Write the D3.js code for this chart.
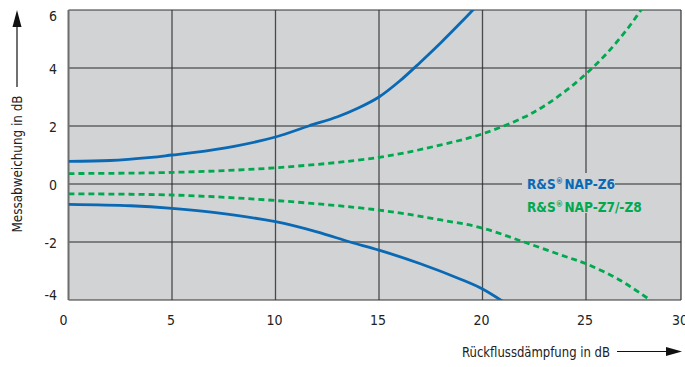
<!DOCTYPE html>
<html>
<head>
<meta charset="utf-8">
<script src="https://cdn.jsdelivr.net/npm/d3@7"></script>
<style>
  body { margin: 0; background: #fff; }
  svg { display: block; font-family: "DejaVu Sans", sans-serif; font-stretch: condensed; }
</style>
</head>
<body>
<div id="chart"></div>
<script>
(function() {
// tick values
const xTicks = [0, 5, 10, 15, 20, 25, 30]
const yTicks = [-4, -2, 0, 2, 4, 6]

// curves: [Rückflussdämpfung dB, Messabweichung dB]
const z6Upper = [[0,0.78],[2,0.81],[4,0.92],[5,1.0],[6,1.08],[8,1.3],[10,1.62],[11.6,2.0],[13,2.32],[14,2.62],[15,3.0],[16,3.55],[17,4.2],[18,4.88],[19,5.6],[20,6.35]]
const z6Lower = [[0,-0.70],[3,-0.75],[5,-0.84],[7,-0.98],[10,-1.3],[12,-1.65],[13.6,-2.0],[15,-2.28],[17,-2.75],[19,-3.3],[20,-3.62],[21.2,-4.15]]
const z7Upper = [[0,0.36],[5,0.40],[10,0.56],[15,0.92],[18,1.35],[20,1.73],[22,2.3],[23,2.7],[24,3.2],[25,3.8],[26,4.5],[27,5.35],[28,6.35]]
const z7Lower = [[0,-0.34],[5,-0.38],[10,-0.57],[15,-0.9],[18,-1.24],[20,-1.52],[22,-2.0],[24,-2.5],[25,-2.75],[26.6,-3.3],[28.4,-4.15]]

const legendNames = [["R&S", "NAP-Z6"], ["R&S", "NAP-Z7/-Z8"]]
const blue = "#0a69b4", green = "#00a84f"

let w = 685, h = 367
let pLeft = 68.5, pRight = 689.5, pTop = 10, pBottom = 300
let frameRight = 681

let x = d3.scaleLinear().domain([0, 30]).range([pLeft, pRight])
let y = d3.scaleLinear().domain([-4, 6]).range([pBottom, pTop])

let svg = d3.select("#chart").append("svg")
            .attr("width", w)
            .attr("height", h)

svg.append("defs").append("clipPath").attr("id", "plotclip")
   .append("rect")
   .attr("x", pLeft).attr("y", pTop)
   .attr("width", frameRight - pLeft).attr("height", pBottom - pTop)

// plot background
svg.append("rect")
   .attr("x", pLeft).attr("y", pTop)
   .attr("width", frameRight - pLeft).attr("height", pBottom - pTop)
   .attr("fill", "#d1d3d4")

// grid
let grid = svg.append("g").attr("clip-path", "url(#plotclip)")
grid.selectAll("line.v")
    .data(xTicks.filter(d => d > 0 && d < 30))
    .enter().append("line")
    .attr("class", "v")
    .attr("x1", d => x(d)).attr("x2", d => x(d))
    .attr("y1", pTop).attr("y2", pBottom)
    .attr("stroke", "#4a4a4a").attr("stroke-width", 1.3)
grid.selectAll("line.hz")
    .data(yTicks.filter(d => d > -4 && d < 6))
    .enter().append("line")
    .attr("class", "hz")
    .attr("x1", pLeft).attr("x2", frameRight)
    .attr("y1", d => y(d)).attr("y2", d => y(d))
    .attr("stroke", "#2a2a2a").attr("stroke-width", 1.2)

// frame
svg.append("line").attr("x1", pLeft).attr("x2", frameRight).attr("y1", pTop).attr("y2", pTop)
   .attr("stroke", "#333").attr("stroke-width", 1.2)
svg.append("line").attr("x1", pLeft).attr("x2", frameRight).attr("y1", pBottom).attr("y2", pBottom)
   .attr("stroke", "#333").attr("stroke-width", 1.2)
svg.append("line").attr("x1", frameRight).attr("x2", frameRight).attr("y1", pTop).attr("y2", pBottom)
   .attr("stroke", "#333").attr("stroke-width", 1.2)
svg.append("line").attr("x1", pLeft).attr("x2", pLeft).attr("y1", pTop).attr("y2", pBottom)
   .attr("stroke", "#6d6d6d").attr("stroke-width", 2)

// legend knockout box
let lgX = 522, lgY = 173
svg.append("rect")
   .attr("x", lgX).attr("y", lgY).attr("width", 93).attr("height", 40)
   .attr("fill", "#d1d3d4")

// curves
let line = d3.line().x(d => x(d[0])).y(d => y(d[1])).curve(d3.curveCatmullRom)
let curves = svg.append("g").attr("clip-path", "url(#plotclip)")
curves.append("path").datum(z6Upper).attr("d", line)
      .attr("fill", "none").attr("stroke", blue).attr("stroke-width", 2.8)
curves.append("path").datum(z6Lower).attr("d", line)
      .attr("fill", "none").attr("stroke", blue).attr("stroke-width", 2.8)
curves.append("path").datum(z7Upper).attr("d", line)
      .attr("fill", "none").attr("stroke", green).attr("stroke-width", 2.8)
      .attr("stroke-dasharray", "6,4")
curves.append("path").datum(z7Lower).attr("d", line)
      .attr("fill", "none").attr("stroke", green).attr("stroke-width", 2.8)
      .attr("stroke-dasharray", "6,4")

// legend text
let lg = svg.append("g").attr("font-weight", "bold").attr("font-size", 13.5)
let lgText = lg.selectAll("text")
  .data(legendNames)
  .enter().append("text")
  .attr("x", lgX + 5)
  .attr("y", (d, i) => 189 + i * 23)
  .attr("fill", (d, i) => i == 0 ? blue : green)
lgText.append("tspan").text(d => d[0])
lgText.append("tspan").text("®").attr("font-size", 8).attr("dy", -5)
lgText.append("tspan").text(d => d[1]).attr("dy", 5).attr("dx", 1.5)

// axes labels
let xAxis = svg.append("g")
    .attr("transform", "translate(0," + pBottom + ")")
    .call(d3.axisBottom(x).tickValues(xTicks).tickSize(0).tickPadding(15).tickFormat(String))
xAxis.select(".domain").remove()
xAxis.attr("font-size", null).attr("font-family", null)
xAxis.selectAll("text")
     .attr("font-size", 14).attr("fill", "#222")
     .attr("dx", d => d == 0 ? -5.5 : d == 30 ? -10 : -1.5)

let yAxis = svg.append("g")
    .attr("transform", "translate(" + 57 + ",0)")
    .call(d3.axisLeft(y).tickValues(yTicks).tickSize(0).tickPadding(0).tickFormat(String))
yAxis.select(".domain").remove()
yAxis.attr("font-size", null).attr("font-family", null)
yAxis.selectAll("text")
     .attr("font-size", 14).attr("fill", "#222")
     .attr("dy", d => d == 6 ? "0.75em" : d == -4 ? "-0.05em" : "0.38em")

// axis titles with arrows
svg.append("text")
   .attr("x", 610).attr("y", 356.5)
   .attr("text-anchor", "end")
   .attr("font-size", 14).attr("fill", "#222")
   .attr("textLength", 148).attr("lengthAdjust", "spacingAndGlyphs")
   .text("Rückflussdämpfung in dB")
svg.append("line").attr("x1", 617).attr("x2", 668).attr("y1", 351.5).attr("y2", 351.5)
   .attr("stroke", "#111").attr("stroke-width", 1.2)
svg.append("path").attr("d", "M666,347L682,351.5L666,356Z").attr("fill", "#111")

svg.append("text")
   .attr("transform", "translate(22,164) rotate(-90)")
   .attr("text-anchor", "middle")
   .attr("font-size", 14).attr("fill", "#222")
   .attr("textLength", 137).attr("lengthAdjust", "spacingAndGlyphs")
   .text("Messabweichung in dB")
svg.append("line").attr("x1", 17).attr("x2", 17).attr("y1", 87).attr("y2", 25)
   .attr("stroke", "#111").attr("stroke-width", 1.2)
svg.append("path").attr("d", "M12.5,27L17,10L21.5,27Z").attr("fill", "#111")
})()
</script>
</body>
</html>
